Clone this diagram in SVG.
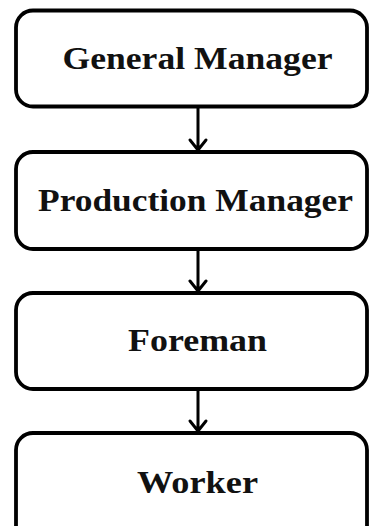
<svg xmlns="http://www.w3.org/2000/svg" width="370" height="526" viewBox="0 0 370 526">
<style>
.box{fill:#fff;stroke:#000;stroke-width:3.8}
.lbl{font-family:"Liberation Serif","Times New Roman",serif;font-weight:bold;font-size:31px;fill:#111}
.con{fill:none;stroke:#000;stroke-width:3;stroke-linecap:round;stroke-linejoin:round}
</style>
<rect width="370" height="526" fill="#fff"/>
<g id="general-manager">
<rect class="box" x="16" y="10.5" width="351" height="96" rx="17"/>
<text class="lbl" x="62.5" y="69" textLength="270" lengthAdjust="spacingAndGlyphs">General Manager</text>
</g>
<g id="production-manager">
<rect class="box" x="16" y="152" width="351" height="97" rx="17"/>
<text class="lbl" x="38" y="210.5" textLength="315" lengthAdjust="spacingAndGlyphs">Production Manager</text>
</g>
<g id="foreman">
<rect class="box" x="16" y="293" width="351" height="96" rx="17"/>
<text class="lbl" x="128" y="350.5" textLength="139" lengthAdjust="spacingAndGlyphs">Foreman</text>
</g>
<g id="worker">
<rect class="box" x="16" y="433" width="351" height="110" rx="17"/>
<text class="lbl" x="137" y="493" textLength="121" lengthAdjust="spacingAndGlyphs">Worker</text>
</g>
<g id="connectors">
<path class="con" d="M198 108 V150 M190 140 L198 150 L206 140"/>
<path class="con" d="M198 251 V291 M190 281 L198 291 L206 281"/>
<path class="con" d="M198 391 V431 M190 421 L198 431 L206 421"/>
</g>
</svg>
